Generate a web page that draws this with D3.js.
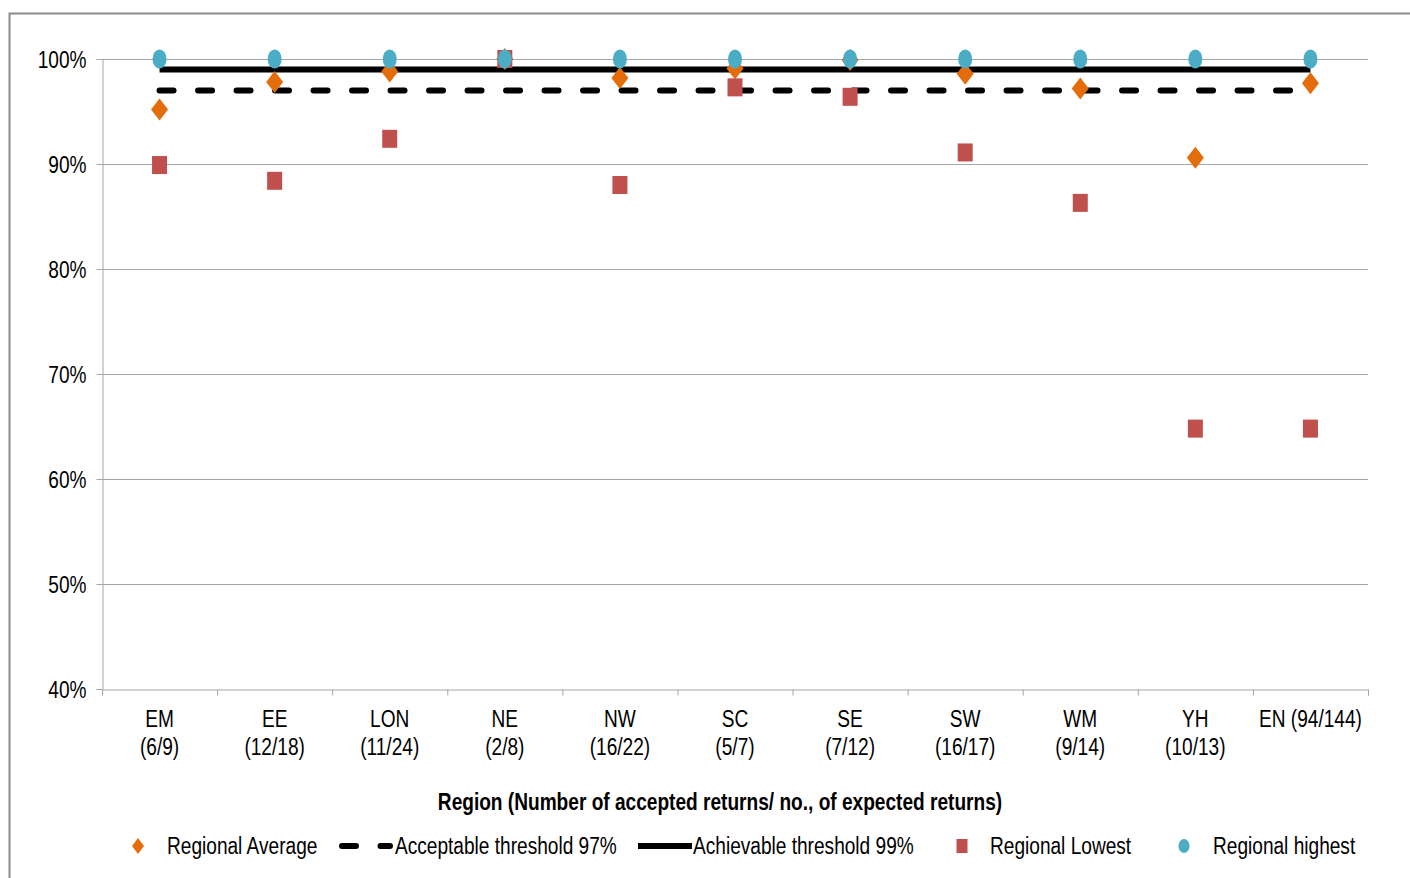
<!DOCTYPE html>
<html>
<head>
<meta charset="utf-8">
<script src="https://cdn.jsdelivr.net/npm/d3@7"></script>
<style>
  html, body { margin: 0; padding: 0; background: #fff; }
  svg { display: block; }
  .lbl { font-family: "Liberation Sans", Arial, sans-serif; fill: #000; }
</style>
</head>
<body>
<svg id="chart" width="1410" height="878"></svg>
<script>
// Regions and their accepted/expected return counts
const regions = ["EM", "EE", "LON", "NE", "NW", "SC", "SE", "SW", "WM", "YH", "EN"];
const tickLabels = [
  ["EM", "(6/9)"], ["EE", "(12/18)"], ["LON", "(11/24)"], ["NE", "(2/8)"],
  ["NW", "(16/22)"], ["SC", "(5/7)"], ["SE", "(7/12)"], ["SW", "(16/17)"],
  ["WM", "(9/14)"], ["YH", "(10/13)"], ["EN (94/144)"]
];
const regionalAverage = [0.952, 0.978, 0.988, 1.000, 0.982, 0.991, 0.999, 0.986, 0.972, 0.906, 0.977];
const regionalLowest  = [0.899, 0.884, 0.924, 1.000, 0.880, 0.973, 0.964, 0.911, 0.863, 0.648, 0.648];
const regionalHighest = [1.000, 1.000, 1.000, 1.000, 1.000, 1.000, 1.000, 1.000, 1.000, 1.000, 1.000];
const acceptableThreshold = 0.97;
const achievableThreshold = 0.99;
const yTicks = [0.4, 0.5, 0.6, 0.7, 0.8, 0.9, 1.0];

const C_AVG = "#E46C0A", C_LOW = "#C0504D", C_HIGH = "#4BACC6", C_GRID = "#A6A6A6";
const FONT_PX = 23, NARROW = 0.83;   // narrow-style lettering: tall glyphs, squeezed horizontally
const DASH = "14,24.5";

const svg = d3.select("#chart");
const plotL = 102, plotR = 1368, plotT = 59, plotB = 689;

const x = d3.scaleBand().domain(regions).range([plotL, plotR]).padding(0);
const y = d3.scaleLinear().domain([0.4, 1.0]).range([plotB, plotT]);
const cx = d => x(d) + x.bandwidth() / 2;

// squeeze a text selection to a narrow face
function narrow(sel) {
  sel.each(function() {
    const len = this.getComputedTextLength();
    d3.select(this).attr("textLength", len * NARROW).attr("lengthAdjust", "spacingAndGlyphs");
  });
  return sel;
}
function label(parent, tx, ty, str, anchor, bold) {
  const t = parent.append("text").attr("class", "lbl")
    .attr("x", tx).attr("y", ty).attr("text-anchor", anchor || "start")
    .style("font-size", FONT_PX + "px").style("font-weight", bold ? "bold" : null)
    .text(str);
  return narrow(t);
}

// chart border
svg.append("path")
  .attr("d", `M9.5,878 V13.5 H1410`)
  .attr("fill", "none").attr("stroke", "#8c8c8c").attr("stroke-width", 2);

// horizontal gridlines
svg.append("g").selectAll("line").data(yTicks.filter(t => t > 0.4)).join("line")
  .attr("x1", plotL).attr("x2", plotR)
  .attr("y1", d => Math.round(y(d)) + 0.5).attr("y2", d => Math.round(y(d)) + 0.5)
  .attr("stroke", C_GRID).attr("stroke-width", 1);

// y axis
const yAxis = svg.append("g").attr("transform", `translate(${plotL + 0.5},0)`)
  .call(d3.axisLeft(y).tickValues(yTicks).tickFormat(d3.format(".0%")).tickSize(6).tickPadding(10));
yAxis.select(".domain").attr("stroke", C_GRID);
yAxis.selectAll(".tick line").attr("stroke", C_GRID);
yAxis.selectAll(".tick text").attr("class", "lbl").attr("dy", "0.36em")
  .style("font-size", FONT_PX + "px").call(narrow);

// x axis: baseline and category boundary ticks
const xb = d3.scaleLinear().domain([0, regions.length]).range([plotL, plotR]);
const xAxis = svg.append("g").attr("transform", `translate(0,${plotB + 0.5})`)
  .call(d3.axisBottom(xb).tickValues(d3.range(regions.length + 1)).tickSize(6).tickFormat(""));
xAxis.select(".domain").attr("stroke", C_GRID);
xAxis.selectAll(".tick line").attr("stroke", C_GRID);

// category labels (one text per line)
const catG = svg.append("g");
regions.forEach((r, i) => {
  tickLabels[i].forEach((s, k) => label(catG, cx(r), 727 + k * 28, s, "middle"));
});

// axis title
label(svg, 720, 810, "Region (Number of accepted returns/ no., of expected returns)", "middle", true);

// threshold lines
const thresholdLine = (v, dashed) => svg.append("line")
  .attr("x1", cx(regions[0])).attr("x2", cx(regions[regions.length - 1]))
  .attr("y1", y(v)).attr("y2", y(v))
  .attr("stroke", "#000").attr("stroke-width", 6)
  .attr("stroke-dasharray", dashed ? DASH : null)
  .attr("stroke-linecap", dashed ? "round" : "butt");
thresholdLine(achievableThreshold, false);
thresholdLine(acceptableThreshold, true);

// marker shapes
const diamond = (g, w, h) => g.append("path").attr("d", `M0,${-h/2} L${w/2},0 L0,${h/2} L${-w/2},0 Z`);
const square = (g, w, h) => g.append("rect").attr("x", -w/2).attr("y", -h/2).attr("width", w).attr("height", h);
const ellipse = (g, w, h) => g.append("ellipse").attr("rx", w/2).attr("ry", h/2);

function series(values, shape, color, w, h) {
  svg.append("g").selectAll("g").data(values).join("g")
    .attr("transform", (d, i) => `translate(${cx(regions[i])},${y(d)})`)
    .each(function() { shape(d3.select(this), w, h).attr("fill", color); });
}
series(regionalAverage, diamond, C_AVG, 17, 22);
series(regionalLowest, square, C_LOW, 15, 18);
series(regionalHighest, ellipse, C_HIGH, 14, 19);

// legend
const ly = 846, ty = ly + 8;
const lg = svg.append("g");
diamond(lg.append("g").attr("transform", `translate(138,${ly})`), 12, 16).attr("fill", C_AVG);
label(lg, 167, ty, "Regional Average");
lg.append("line").attr("x1", 342).attr("x2", 390).attr("y1", ly).attr("y2", ly)
  .attr("stroke", "#000").attr("stroke-width", 6).attr("stroke-dasharray", DASH).attr("stroke-linecap", "round");
label(lg, 395, ty, "Acceptable threshold 97%");
lg.append("line").attr("x1", 638).attr("x2", 692).attr("y1", ly).attr("y2", ly)
  .attr("stroke", "#000").attr("stroke-width", 6);
label(lg, 693, ty, "Achievable threshold 99%");
square(lg.append("g").attr("transform", `translate(962,${ly})`), 11, 14).attr("fill", C_LOW);
label(lg, 990, ty, "Regional Lowest");
ellipse(lg.append("g").attr("transform", `translate(1184,${ly})`), 11, 14).attr("fill", C_HIGH);
label(lg, 1213, ty, "Regional highest");
</script>
</body>
</html>
